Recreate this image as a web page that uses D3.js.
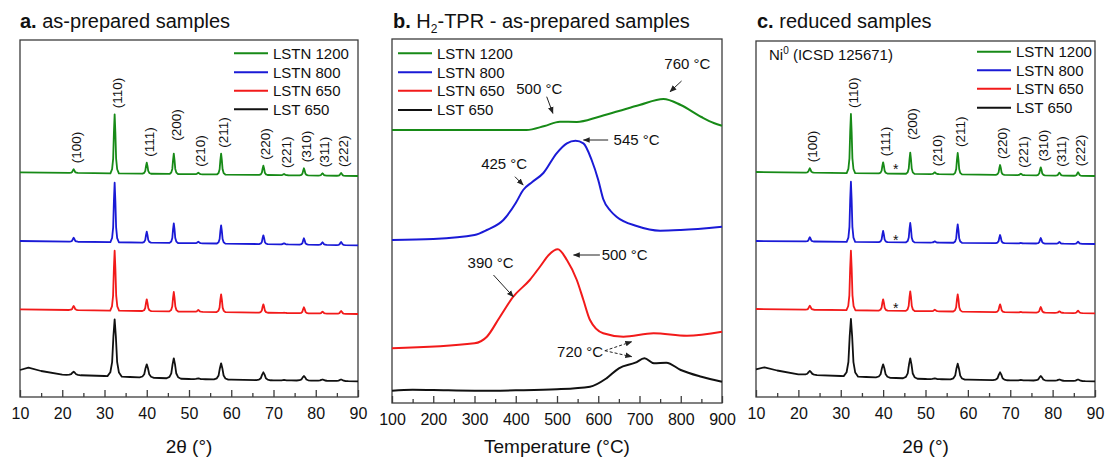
<!DOCTYPE html>
<html>
<head>
<meta charset="utf-8">
<script src="https://cdn.jsdelivr.net/npm/d3@7"></script>
<style>
  body { margin: 0; background: #fff; }
  svg { font-family: "Liberation Sans", Arial, sans-serif; }
</style>
</head>
<body>
<svg id="chart" width="1107" height="457"></svg>
<script>
// ---- data ----
const seriesNames = ["LSTN 1200", "LSTN 800", "LSTN 650", "LST 650"];
const hklLabels = ["(100)", "(110)", "(111)", "(200)", "(210)", "(211)", "(220)", "(221)", "(310)", "(311)", "(222)"];
const peakPos = [22.7, 32.4, 40.0, 46.4, 52.2, 57.6, 67.6, 72.5, 77.2, 81.6, 86.0];
const xrdTicks = [10, 20, 30, 40, 50, 60, 70, 80, 90];
const tprTicks = [100, 200, 300, 400, 500, 600, 700, 800, 900];

// panel a: as-prepared (intensity, arbitrary units, stacked)
const aBase1200 = [[10, 224.7], [90, 221]];
const aTops1200 = [227.7, 282.7, 234.3, 243.3, 224.3, 243.3, 231.3, 223, 228.7, 223.7, 224];
const aBase800 = [[10, 156], [90, 151.7]];
const aTops800 = [159.3, 214.3, 165.3, 173.7, 155.3, 171.7, 161.7, 153.7, 158.7, 154.7, 155];
const aBase650 = [[10, 87.7], [90, 83]];
const aTops650 = [91, 146.3, 97.7, 105, 87, 102.7, 92.7, 84.3, 89.7, 85.3, 86];
const aBaseLST = [[10, 27], [12, 29.3], [15, 26], [20, 22.3], [30, 21], [36, 20], [43, 19], [50, 18], [60, 17.3], [70, 16.7], [80, 16.3], [90, 15.7]];
const aTopsLST = [25.3, 77.7, 32.7, 38.7, 18.5, 33.7, 24.7, 17, 21, 17.5, 17.5];

// panel c: reduced
const cBase1200 = [[10, 225], [90, 221]];
const cTops1200 = [228.7, 283, 234.7, 244.3, 224.7, 244, 232, 223.3, 229.7, 224.3, 224.7];
const cBase800 = [[10, 156], [90, 153]];
const cTops800 = [159.7, 215.3, 166, 174, 155.7, 172.7, 162, 154, 159, 155, 155.3];
const cBase650 = [[10, 88], [90, 83.7]];
const cTops650 = [91.3, 146.3, 97.7, 105.7, 87.3, 102.7, 92.7, 85, 90, 85.7, 86.3];
const cBaseLST = [[10, 27.7], [12, 29.7], [15, 26.5], [20, 22.7], [30, 21], [36, 20], [43, 19], [50, 18], [60, 17.3], [70, 16.7], [80, 16.3], [90, 15.7]];
const cTopsLST = [26, 78, 32.7, 38.7, 18.5, 33.3, 24.7, 17, 21, 17.5, 17.5];
const niStarPos = 43.0;
const niStarLevels = [230, 158.7, 91];   // LSTN 1200, 800, 650

// panel b: H2-TPR, [temperature °C, signal a.u.]
const tpr1200 = [[100, 273], [300, 273], [426, 273], [470, 277], [507, 281.3], [548, 281], [600, 286], [650, 292], [700, 298], [758, 304], [800, 298], [850, 286], [880, 280], [900, 277.3]];
const tpr800 = [[100, 163], [200, 164], [300, 168], [330, 173], [370, 183], [400, 200], [418, 213], [440, 221], [467, 230], [499, 249.7], [524, 259.7], [545, 262.3], [564, 259.7], [584, 243], [600, 223], [612, 204], [630, 192], [645, 186], [693, 177], [750, 172.3], [800, 173], [900, 176.3]];
const tpr650 = [[100, 54.7], [300, 59.7], [330, 66.3], [360, 85], [394, 106.3], [434, 123], [460, 137], [480, 148], [502, 153.7], [524, 143], [548, 123], [564, 103], [580, 83], [612, 69.7], [661, 66.3], [734, 69.7], [815, 67.3], [900, 71.3]];
const tprLST = [[100, 12.3], [150, 13.3], [200, 13], [300, 12.3], [400, 12.7], [500, 13.7], [580, 16.3], [620, 24.7], [650, 34.7], [690, 40.3], [712, 44.7], [735, 39.7], [765, 40.3], [800, 33], [850, 26.3], [900, 21.3]];

// annotations: label, text anchor [T, y], arrow from [T, y] to [T, y]
const tprNotes = [
  { text: "760 °C", at: [816, 339.7], arrows: [[[802, 322], [774, 311.3]]] },
  { text: "500 °C", at: [457, 314.7], arrows: [[[475, 306.3], [490, 289.7]]] },
  { text: "545 °C", at: [693, 263], arrows: [[[624, 263], [564, 263]]] },
  { text: "425 °C", at: [372, 239.7], arrows: [[[398, 226.3], [418, 218]]] },
  { text: "390 °C", at: [339, 140.3], arrows: [[[346, 128], [394, 106.3]]] },
  { text: "500 °C", at: [664, 148], arrows: [[[604, 148], [540, 148]]] },
  { text: "720 °C", at: [556, 51.3], arrows: [[[616, 52.3], [681, 61.3]], [[616, 52.3], [681, 46.3]]], dashed: true }
];

// ---- styles ----
const colors = ["#178a17", "#1a1ad6", "#f21a1a", "#111111"];
const frameColor = "#3c3c3c";

const svg = d3.select("#chart");

svg.append("defs").append("marker")
  .attr("id", "arrow")
  .attr("viewBox", "0 0 10 10")
  .attr("refX", 9).attr("refY", 5)
  .attr("markerWidth", 7).attr("markerHeight", 7)
  .attr("markerUnits", "userSpaceOnUse")
  .attr("orient", "auto")
  .append("path").attr("d", "M0,1 L10,5 L0,9 Z").attr("fill", "#222");

function makePanel(box, xDomain, majors, minors) {
  const x = d3.scaleLinear().domain(xDomain).range([box.x0, box.x1]);
  const y = d3.scaleLinear().domain([0, box.y1 - box.y0]).range([box.y1, box.y0]);
  const g = svg.append("g");

  g.append("g")
    .attr("transform", `translate(0,${box.y1})`)
    .call(d3.axisBottom(x).tickValues(minors).tickSizeInner(-4).tickSizeOuter(0).tickFormat(""))
    .call(a => a.select(".domain").remove())
    .call(a => a.selectAll("line").attr("stroke", frameColor).attr("stroke-width", 1.3));

  g.append("g")
    .attr("transform", `translate(0,${box.y1})`)
    .call(d3.axisBottom(x).tickValues(majors).tickSizeInner(-7).tickSizeOuter(0).tickPadding(11).tickFormat(d3.format("d")))
    .call(a => a.select(".domain").remove())
    .call(a => a.selectAll("line").attr("stroke", frameColor).attr("stroke-width", 1.3))
    .call(a => a.selectAll("text").attr("fill", "#111").style("font-size", "16px")
      .style("font-family", '"Liberation Sans", Arial, sans-serif'));

  g.append("rect")
    .attr("x", box.x0).attr("y", box.y0)
    .attr("width", box.x1 - box.x0).attr("height", box.y1 - box.y0)
    .attr("fill", "none").attr("stroke", frameColor).attr("stroke-width", 1.3);

  return { x, y, g };
}

// pattern = baseline points + a fixed peak outline at each reflection
function xrdPoints(base, tops, hw) {
  const b = d3.scaleLinear().domain(base.map(d => d[0])).range(base.map(d => d[1])).clamp(true);
  const shape = [[-1, 0], [-0.6, 0.07], [-0.35, 0.25], [-0.17, 0.7], [0, 1], [0.17, 0.7], [0.35, 0.25], [0.6, 0.07], [1, 0]];
  let pts = base.filter(d => !peakPos.some(p => Math.abs(d[0] - p) < hw));
  peakPos.forEach((p, i) => {
    shape.forEach(([dx, f]) => {
      const xx = p + dx * hw;
      const y0 = b(xx);
      pts.push([xx, y0 + (tops[i] - y0) * f]);
    });
  });
  return pts.sort((m, n) => m[0] - n[0]);
}

function drawLegend(x0, ys) {
  seriesNames.forEach((name, i) => {
    svg.append("line").attr("x1", x0).attr("x2", x0 + 34).attr("y1", ys[i]).attr("y2", ys[i])
      .attr("stroke", colors[i]).attr("stroke-width", 2);
    svg.append("text").attr("x", x0 + 39).attr("y", ys[i]).attr("dy", "0.36em")
      .style("font-size", "15px").attr("fill", "#111").text(name);
  });
}

function drawXrd(panel, sets, hkls) {
  const line = d3.line().x(d => panel.x(d[0])).y(d => panel.y(d[1]));
  sets.forEach((s, i) => {
    panel.g.append("path").datum(xrdPoints(s.base, s.tops, s.hw))
      .attr("d", line).attr("fill", "none")
      .attr("stroke", colors[i]).attr("stroke-width", 1.8).attr("stroke-linejoin", "round");
  });
  // hkl labels above the top pattern
  hkls.forEach((lab, i) => {
    const px = panel.x(peakPos[i]) + 2;
    const py = panel.y(sets[0].tops[i]) - (i === 3 ? 13 : 6);
    panel.g.append("text")
      .attr("transform", `translate(${px},${py}) rotate(-90)`)
      .attr("dy", "0.36em")
      .style("font-size", "13.5px").attr("fill", "#111")
      .text(lab);
  });
}

function axisTitle(panel, text, cx) {
  svg.append("text").attr("x", cx).attr("y", 453).attr("text-anchor", "middle")
    .style("font-size", "19px").attr("fill", "#111").text(text);
}

function panelTitle(x0, letter, parts) {
  const t = svg.append("text").attr("x", x0).attr("y", 27.5).style("font-size", "20px").attr("fill", "#111");
  t.append("tspan").attr("font-weight", "bold").text(letter + " ");
  parts.forEach(p => {
    if (p.sub) t.append("tspan").style("font-size", "12px").attr("dy", 5).text(p.sub);
    else t.append("tspan").attr("dy", p.after ? -5 : 0).text(p.text);
  });
}

// ---- panel a ----
const boxA = { x0: 20, x1: 358, y0: 40, y1: 397 };
const pA = makePanel(boxA, [10, 90], xrdTicks, [15, 25, 35, 45, 55, 65, 75, 85]);
drawXrd(pA, [
  { base: aBase1200, tops: aTops1200, hw: 1.0 },
  { base: aBase800, tops: aTops800, hw: 1.0 },
  { base: aBase650, tops: aTops650, hw: 1.05 },
  { base: aBaseLST, tops: aTopsLST, hw: 1.7 }
], hklLabels);
drawLegend(234, [53.3, 72.3, 90.7, 109.3]);
axisTitle(pA, "2θ (°)", 189);
panelTitle(20, "a.", [{ text: "as-prepared samples" }]);

// ---- panel b ----
const boxB = { x0: 392, x1: 722, y0: 39, y1: 403 };
const pB = makePanel(boxB, [100, 900], tprTicks, [150, 250, 350, 450, 550, 650, 750, 850]);
const tprLine = d3.line().x(d => pB.x(d[0])).y(d => pB.y(d[1])).curve(d3.curveMonotoneX);
[tpr1200, tpr800, tpr650, tprLST].forEach((s, i) => {
  pB.g.append("path").datum(s).attr("d", tprLine).attr("fill", "none")
    .attr("stroke", colors[i]).attr("stroke-width", 2);
});
tprNotes.forEach(n => {
  pB.g.append("text").attr("x", pB.x(n.at[0])).attr("y", pB.y(n.at[1])).attr("dy", "0.36em")
    .attr("text-anchor", "middle").style("font-size", "15px").attr("fill", "#111").text(n.text);
  n.arrows.forEach(([a, b]) => {
    pB.g.append("line")
      .attr("x1", pB.x(a[0])).attr("y1", pB.y(a[1]))
      .attr("x2", pB.x(b[0])).attr("y2", pB.y(b[1]))
      .attr("stroke", "#222").attr("stroke-width", 1)
      .attr("stroke-dasharray", n.dashed ? "3,2" : null)
      .attr("marker-end", "url(#arrow)");
  });
});
drawLegend(398, [53.3, 72.3, 90.7, 110]);
axisTitle(pB, "Temperature (°C)", 557);
panelTitle(393, "b.", [{ text: "H" }, { sub: "2" }, { text: "-TPR - as-prepared samples", after: true }]);

// ---- panel c ----
const boxC = { x0: 756, x1: 1095, y0: 41, y1: 397 };
const pC = makePanel(boxC, [10, 90], xrdTicks, [15, 25, 35, 45, 55, 65, 75, 85]);
drawXrd(pC, [
  { base: cBase1200, tops: cTops1200, hw: 1.0 },
  { base: cBase800, tops: cTops800, hw: 1.0 },
  { base: cBase650, tops: cTops650, hw: 1.05 },
  { base: cBaseLST, tops: cTopsLST, hw: 1.7 }
], hklLabels);
niStarLevels.forEach(v => {
  pC.g.append("text").attr("x", pC.x(niStarPos)).attr("y", pC.y(v) + 7)
    .attr("text-anchor", "middle").style("font-size", "14px").attr("fill", "#111").text("*");
});
drawLegend(977, [51.7, 70.3, 88.7, 107.7]);
const ni = svg.append("text").attr("x", 769).attr("y", 59.5).style("font-size", "15px").attr("fill", "#111");
ni.append("tspan").text("Ni");
ni.append("tspan").style("font-size", "10px").attr("dy", -6).text("0");
ni.append("tspan").attr("dy", 6).text(" (ICSD 125671)");
axisTitle(pC, "2θ (°)", 925.5);
panelTitle(757, "c.", [{ text: "reduced samples" }]);
</script>
</body>
</html>
